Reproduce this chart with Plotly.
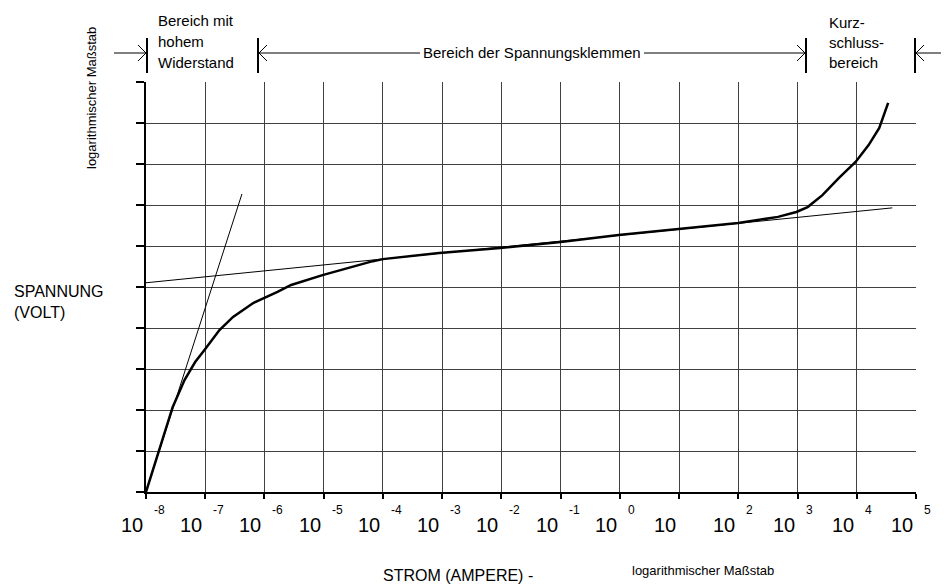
import plotly.graph_objects as go

# ---- data (x = log10 of current in A, y = voltage in grid units) ----
strom_exp = [-8.0, -7.55, -7.35, -7.17, -7.0, -6.76, -6.53, -6.19, -5.78, -5.55,
             -5.02, -4.61, -4.17, -4.0, -3.05, -2.02, -1.0, -0.02, 0.98, 2.0,
             2.67, 2.98, 3.17, 3.42, 3.70, 3.98, 4.2, 4.38, 4.53]
spannung = [0.0, 2.07, 2.73, 3.17, 3.49, 3.95, 4.27, 4.61, 4.88, 5.05,
            5.29, 5.46, 5.63, 5.68, 5.83, 5.95, 6.10, 6.27, 6.41, 6.56,
            6.71, 6.83, 6.95, 7.24, 7.66, 8.05, 8.46, 8.88, 9.49]

tangente_steil_x = [-8.0, -6.38]
tangente_steil_y = [0.0, 7.27]
tangente_flach_x = [-8.23, 4.60]
tangente_flach_y = [5.07, 6.93]

exponenten = list(range(-8, 6))
spannung_ticks = list(range(0, 11))

# ---- layout helpers (window pixel -> paper); page body has an 8px margin ----
OFF = 8
W, H = 949 - OFF, 587 - OFF
L, T = 146 - OFF, 82 - OFF
PW, PH = 770, 410
R = W - L - PW
B = H - T - PH


def xp(px):
    return (px - 146) / PW


def yp(py):
    return (492 - py) / PH


FONT = "Liberation Sans, Arial, sans-serif"

fig = go.Figure()
fig.add_trace(go.Scatter(x=tangente_steil_x, y=tangente_steil_y, mode="lines",
                         line=dict(color="black", width=1), showlegend=False,
                         hoverinfo="skip"))
fig.add_trace(go.Scatter(x=tangente_flach_x, y=tangente_flach_y, mode="lines",
                         line=dict(color="black", width=1), showlegend=False,
                         hoverinfo="skip"))
fig.add_trace(go.Scatter(x=strom_exp, y=spannung, mode="lines",
                         line=dict(color="black", width=2.5), showlegend=False))

ann = []
# x tick labels "10" with superscript exponent
for e in exponenten:
    ann.append(dict(x=e, xref="x", y=yp(525), yref="paper", text="10",
                    showarrow=False, xanchor="right", yanchor="middle",
                    xshift=-1, font=dict(size=20, family=FONT, color="black")))
    if e != 1:
        ann.append(dict(x=e, xref="x", y=yp(510), yref="paper", text=str(e),
                        showarrow=False, xanchor="left", yanchor="middle",
                        xshift=6, font=dict(size=12, family=FONT, color="black")))

# axis titles
ann.append(dict(x=xp(458), y=yp(575), xref="paper", yref="paper",
                text="STROM (AMPERE) -", showarrow=False, xanchor="center",
                yanchor="middle", font=dict(size=16, family=FONT, color="black")))
ann.append(dict(x=xp(703), y=yp(570), xref="paper", yref="paper",
                text="logarithmischer Maßstab", showarrow=False, xanchor="center",
                yanchor="middle", font=dict(size=13, family=FONT, color="black")))
ann.append(dict(x=xp(12), y=yp(302), xref="paper", yref="paper",
                text="SPANNUNG<br>(VOLT)", showarrow=False, xanchor="left",
                yanchor="middle", align="left",
                font=dict(size=16, family=FONT, color="black")))
ann.append(dict(x=xp(91), y=yp(98), xref="paper", yref="paper",
                text="logarithmischer Maßstab", showarrow=False, textangle=-90,
                xanchor="center", yanchor="middle",
                font=dict(size=13, family=FONT, color="black")))

# region labels
for txt, py in zip(["Bereich mit", "hohem", "Widerstand"], [20, 42, 63]):
    ann.append(dict(x=xp(156), y=yp(py), xref="paper", yref="paper", text=txt,
                    showarrow=False, xanchor="left", yanchor="middle",
                    font=dict(size=15, family=FONT, color="black")))
for txt, py in zip(["Kurz-", "schluss-", "bereich"], [22, 43, 63]):
    ann.append(dict(x=xp(827), y=yp(py), xref="paper", yref="paper", text=txt,
                    showarrow=False, xanchor="left", yanchor="middle",
                    font=dict(size=15, family=FONT, color="black")))
ann.append(dict(x=xp(532), y=yp(53), xref="paper", yref="paper",
                text="Bereich der Spannungsklemmen", showarrow=False,
                xanchor="center", yanchor="middle",
                font=dict(size=15, family=FONT, color="black")))

shapes = []


def pline(x0, y0, x1, y1, w=1):
    shapes.append(dict(type="line", xref="paper", yref="paper",
                       x0=xp(x0), y0=yp(y0), x1=xp(x1), y1=yp(y1),
                       line=dict(color="black", width=w)))


# bars
for bx in (147, 258, 806, 915):
    pline(bx, 38, bx, 73, 2)
# arrow lines
pline(114, 53, 146, 53)
pline(259, 53, 420, 53)
pline(644, 53, 805, 53)
pline(916, 53, 949, 53)
# chevrons
for tip, d in ((146, -1), (259, 1), (805, -1), (916, 1)):
    pline(tip + 8 * d, 45, tip, 53)
    pline(tip + 8 * d, 61, tip, 53)

fig.update_layout(
    width=W, height=H,
    margin=dict(l=L, r=R, t=T, b=B),
    paper_bgcolor="white", plot_bgcolor="white",
    annotations=ann, shapes=shapes,
    xaxis=dict(range=[-8, 5], tickvals=exponenten, showticklabels=False,
               ticks="outside", ticklen=5, tickwidth=2, tickcolor="black",
               showline=True, linewidth=2, linecolor="black",
               showgrid=True, gridcolor="#404040", gridwidth=1, zeroline=False),
    yaxis=dict(range=[0, 10], tickvals=spannung_ticks, showticklabels=False,
               ticks="outside", ticklen=8, tickwidth=1.5, tickcolor="black",
               showline=True, linewidth=2, linecolor="black",
               showgrid=True, gridcolor="#404040", gridwidth=1, zeroline=False),
)

fig.write_html("out.html")
